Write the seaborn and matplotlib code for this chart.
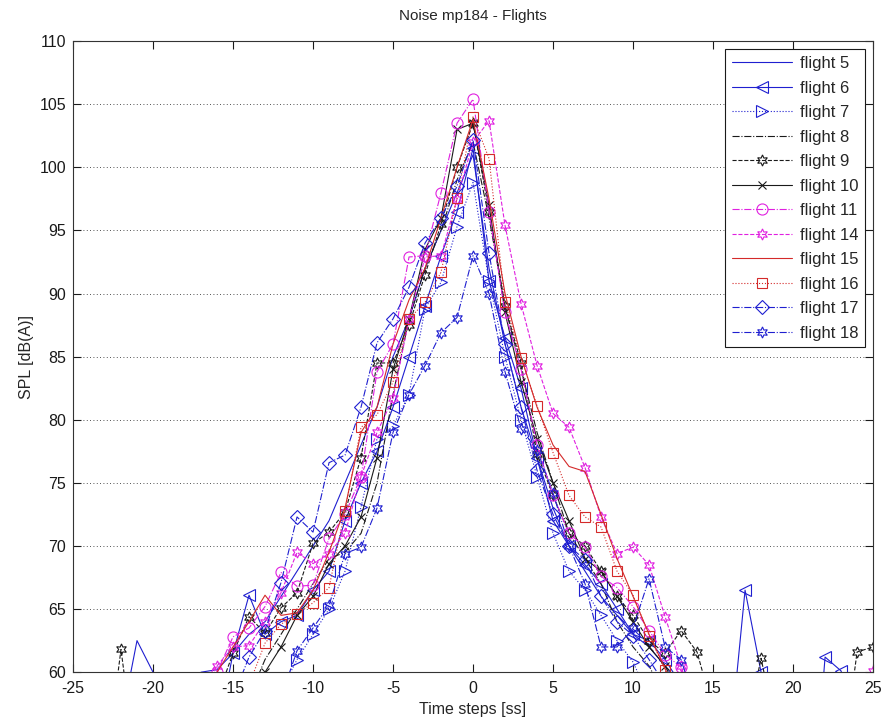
import numpy as np
import pandas as pd
import matplotlib
matplotlib.use("Agg")
import matplotlib.pyplot as plt
import seaborn as sns

# SPL per flight, one value per time step (values < 60 fall below the axis)
t5 = list(range(-22, 14))
spl5 = [56, 62.5, 60, 50, 50, 60, 60.2, 61.5, 63, 64, 66, 68, 70, 72, 75, 78, 81, 85, 88, 92,
        95, 98, 101, 92, 86, 81, 77, 73, 70, 68, 66, 64.5, 63, 62, 60.5, 59]

t6 = list(range(-16, 25))
spl6 = [55, 61.5, 66.1, 63, 64, 64.5, 66.5, 68, 72, 75, 77.5, 81, 85, 89, 93, 96.5, 101.5,
        91, 86.5, 82.5, 77, 72, 70, 68.5, 67, 65, 63, 62.5, 61, 59, 55, 50, 53.5, 66.5, 60,
        50, 45, 45, 61.2, 60.1, 55]

t7 = list(range(-13, 12))
spl7 = [56, 58.5, 61, 63, 65, 68, 73.1, 78.5, 79.5, 82, 88.8, 90.9, 95.3, 98.8, 91, 85, 80,
        75.5, 71, 68, 66.5, 64.5, 62.5, 60.8, 58]

t8 = list(range(-14, 13))
spl8 = [58, 61, 63, 65, 67, 69, 69.5, 71, 75, 82, 88, 92, 95, 99, 102, 96, 89, 84, 79, 75,
        71, 69, 67, 64, 62, 60.5, 58]

t9 = list(range(-23, 26))
spl9 = [52, 61.8, 52, 45, 45, 45, 52, 58, 61.5, 64.4, 63.1, 65.1, 66.3, 70.2, 71.1, 72.7,
        77, 84.5, 84.5, 87.5, 91.5, 95.5, 100, 103.5, 96.5, 89, 84.5, 77.3, 74, 71, 70, 68,
        66, 64.5, 62.5, 61.5, 63.3, 61.6, 57, 50, 55, 61.1, 55, 45, 45, 45, 52, 61.6, 62]

t10 = list(range(-14, 14))
spl10 = [55, 60, 62, 64.5, 66, 68.6, 70, 72.3, 77, 84, 88, 93.5, 96, 103, 103.5, 97, 88.5,
         83, 78.5, 75, 72, 69, 68, 66, 64, 62, 60.5, 58]

t11 = list(range(-17, 16))
spl11 = [55, 60, 62.8, 63.5, 65.2, 67.9, 66.8, 66.9, 70.6, 72.5, 75.5, 83.8, 86, 92.9, 93,
         98, 103.5, 105.4, 96.5, 88.5, 84, 78, 74, 71, 69.9, 67.6, 66.7, 65.2, 63.3, 61.4,
         60.4, 57, 54]

t14 = list(range(-17, 26))
spl14 = [58, 60.5, 62, 62.1, 64, 66.3, 69.5, 68.6, 69.4, 71, 75.5, 79, 81.7, 88, 92.9, 93,
         97.5, 102, 103.7, 95.4, 89.2, 84.3, 80.5, 79.4, 76.2, 72.3, 69.4, 69.9, 68.5, 64.4,
         60.5, 56, 45, 45, 45, 45, 45, 45, 45, 45, 45, 50, 60.1]

t15 = list(range(-17, 14))
spl15 = [58, 60, 62, 64, 66.1, 64.5, 64.7, 66.5, 69.5, 73, 79, 81, 86, 89.5, 92, 96, 100,
         103.8, 97.5, 90, 85, 81, 78, 76.3, 75.9, 72.5, 69, 66, 63, 60.3, 57]

t16 = list(range(-14, 14))
spl16 = [59, 62.3, 63.8, 64.6, 65.5, 66.7, 72.8, 79.4, 80.4, 83, 88, 89.3, 91.7, 97.6, 104,
         100.7, 89.3, 84.9, 81.1, 77.4, 74, 72.3, 71.5, 68, 66.1, 62.9, 60.2, 57]

t17 = list(range(-15, 13))
spl17 = [58, 61.2, 63.3, 67.1, 72.3, 71.1, 76.6, 77.2, 81, 86.1, 88, 90.5, 94, 96, 98.5,
         102.2, 93.2, 86, 81, 76, 72.5, 70, 68.9, 66, 64, 62.9, 61, 59]

t18 = list(range(-12, 15))
spl18 = [58, 61.7, 63.5, 65.3, 69.4, 69.9, 73, 79, 82, 84.3, 86.9, 88.1, 93, 90, 83.8, 79.3,
         77.6, 74.2, 70, 67, 62, 62, 63.5, 67.4, 62, 61, 57]

flights = ["flight 5", "flight 6", "flight 7", "flight 8", "flight 9", "flight 10",
           "flight 11", "flight 14", "flight 15", "flight 16", "flight 17", "flight 18"]
times = [t5, t6, t7, t8, t9, t10, t11, t14, t15, t16, t17, t18]
spls = [spl5, spl6, spl7, spl8, spl9, spl10, spl11, spl14, spl15, spl16, spl17, spl18]

blue = "#1f1fd0"
mag = "#e020e0"
red = "#d42a2a"
# (color, linestyle, marker)
styles = [(blue, "-", None), (blue, "-", "<"), (blue, ":", ">"), ("k", "-.", None),
          ("k", "--", (6, 1, 0)), ("k", "-", "x"), (mag, "-.", "o"), (mag, "--", (6, 1, 0)),
          (red, "-", None), (red, ":", "s"), (blue, "-.", "D"), (blue, "-.", (6, 1, 0))]

df = pd.concat([pd.DataFrame({"t": t, "spl": s, "flight": f})
                for t, s, f in zip(times, spls, flights)])

sns.set_theme(style="ticks")
plt.rcParams["font.family"] = ["Liberation Sans", "DejaVu Sans"]
plt.rcParams["axes.unicode_minus"] = False

fig = plt.figure(figsize=(8.87, 7.22), dpi=100)
ax = fig.add_axes([0.0823, 0.069, 0.902, 0.874])

for f, (c, ls, m) in zip(flights, styles):
    d = df[df["flight"] == f]
    ms = 7 if m in ("s", "D") else 8
    if m == "x":
        ms = 6
    sns.lineplot(data=d, x="t", y="spl", ax=ax, color=c, linestyle=ls, linewidth=0.8,
                 marker=m, markersize=ms, markerfacecolor="none", markeredgecolor=c,
                 markeredgewidth=0.8, label=f, estimator=None, sort=False)

ax.set_xlim(-25, 25)
ax.set_ylim(60, 110)
ax.set_xticks(np.arange(-25, 26, 5))
ax.set_yticks(np.arange(60, 111, 5))
ax.tick_params(direction="in", top=True, right=True, length=6, width=0.8,
               labelsize=11.5, colors="k")
ax.tick_params(axis="x", pad=6)
ax.tick_params(axis="y", pad=5)
ax.yaxis.grid(True, linestyle=(0, (1, 3)), color="k", linewidth=0.6)
ax.xaxis.grid(False)
for sp in ax.spines.values():
    sp.set_color("#333333")
    sp.set_linewidth(0.8)

ax.set_title("Noise mp184 - Flights", fontsize=11, pad=15)
ax.set_xlabel("Time steps [ss]", fontsize=11.5, labelpad=5)
ax.set_ylabel("SPL [dB(A)]", fontsize=11.5, labelpad=4)

leg = ax.legend(loc="upper right", fontsize=12, handlelength=3.6, fancybox=False,
                framealpha=1, edgecolor="k", borderaxespad=0.5, labelspacing=0.57,
                handletextpad=0.45, borderpad=0.4)
leg.get_frame().set_linewidth(0.8)

fig.savefig("out.png", dpi=100)
